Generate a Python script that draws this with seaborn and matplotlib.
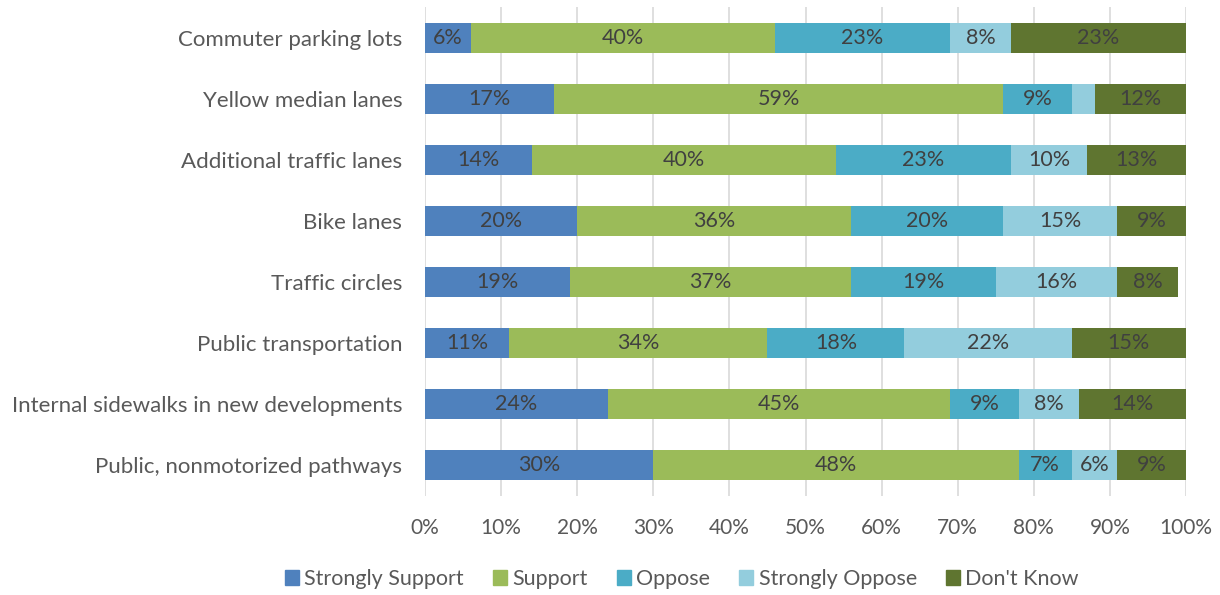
import numpy as np
import pandas as pd
import matplotlib
matplotlib.use("Agg")
import matplotlib.pyplot as plt
import seaborn as sns

categories = [
    "Commuter parking lots",
    "Yellow median lanes",
    "Additional traffic lanes",
    "Bike lanes",
    "Traffic circles",
    "Public transportation",
    "Internal sidewalks in new developments",
    "Public, nonmotorized pathways",
]
series_names = ["Strongly Support", "Support", "Oppose", "Strongly Oppose", "Don't Know"]
strongly_support = [6, 17, 14, 20, 19, 11, 24, 30]
support = [40, 59, 40, 36, 37, 34, 45, 48]
oppose = [23, 9, 23, 20, 19, 18, 9, 7]
strongly_oppose = [8, 3, 10, 15, 16, 22, 8, 6]
dont_know = [23, 12, 13, 9, 8, 15, 14, 9]
colors = ["#4F81BD", "#9BBB59", "#4BACC6", "#93CDDD", "#5F7530"]
x_ticks = list(range(0, 101, 10))

sns.set_theme(style="white")
plt.rcParams["font.family"] = ["Lato", "DejaVu Sans"]
text_color = "#595959"

values = np.array([strongly_support, support, oppose, strongly_oppose, dont_know], dtype=float)
cum = np.cumsum(values, axis=0)

fig = plt.figure(figsize=(12.2, 5.95), dpi=100)
ax = fig.add_axes([0.3484, 0.1672, 0.9721 - 0.3484, 0.9874 - 0.1672])

# stacked bars: draw cumulative totals from the outermost segment inward
for i in range(len(series_names) - 1, -1, -1):
    df = pd.DataFrame({"category": categories, "total": cum[i]})
    sns.barplot(data=df, x="total", y="category", orient="h", color=colors[i],
                width=0.5, saturation=1, ax=ax, zorder=3, linewidth=0)

# segment value labels
for i in range(len(series_names)):
    for j, cat in enumerate(categories):
        v = values[i, j]
        if v < 5:
            continue
        center = cum[i, j] - v / 2
        ax.text(center, j, f"{int(v)}%", ha="center", va="center",
                fontsize=15.5, color="#404040", zorder=4)

ax.set_xlim(0, 100)
ax.set_ylim(7.5, -0.5)
ax.set_xticks(x_ticks)
ax.set_xticklabels([f"{t}%" for t in x_ticks], fontsize=15, color=text_color)
ax.tick_params(axis="y", labelsize=16, labelcolor=text_color, length=0, pad=16.5)
ax.tick_params(axis="x", length=0, pad=16)
ax.set_xlabel("")
ax.set_ylabel("")
ax.grid(axis="x", color="#D9D9D9", linewidth=1.2, zorder=0)
ax.set_axisbelow(True)
for s in ax.spines.values():
    s.set_visible(False)

handles = [plt.Rectangle((0, 0), 1, 1, color=c) for c in colors]
fig.legend(handles, series_names, loc="center", bbox_to_anchor=(0.559, 0.027),
           ncol=5, frameon=False, fontsize=15.5, handlelength=0.65, handleheight=0.65,
           handletextpad=0.25, columnspacing=1.35, labelcolor=text_color)

fig.savefig("out.png", dpi=100)
